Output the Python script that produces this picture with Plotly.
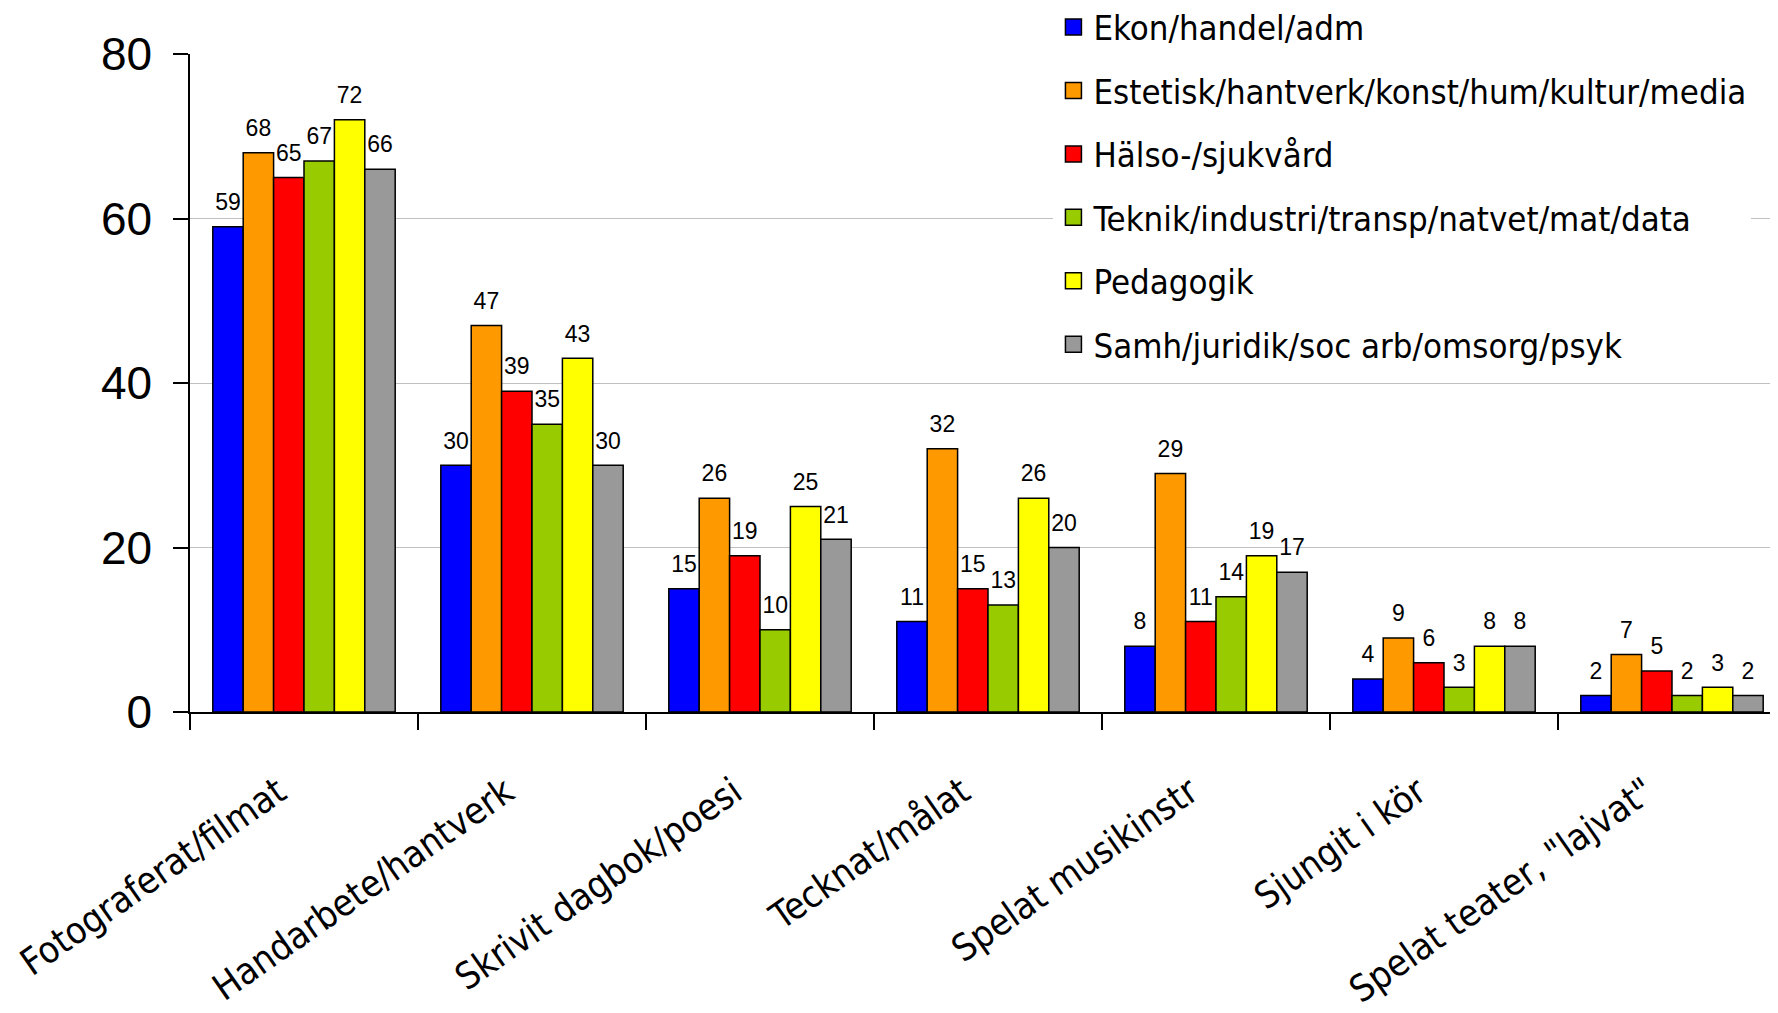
import plotly.graph_objects as go

categories = ["Fotograferat/filmat", "Handarbete/hantverk", "Skrivit dagbok/poesi",
              "Tecknat/målat", "Spelat musikinstr", "Sjungit i kör", "Spelat teater, \"lajvat\""]
series_names = ["Ekon/handel/adm", "Estetisk/hantverk/konst/hum/kultur/media", "Hälso-/sjukvård",
                "Teknik/industri/transp/natvet/mat/data", "Pedagogik", "Samh/juridik/soc arb/omsorg/psyk"]
ekon = [59, 30, 15, 11, 8, 4, 2]
estetisk = [68, 47, 26, 32, 29, 9, 7]
halso = [65, 39, 19, 15, 11, 6, 5]
teknik = [67, 35, 10, 13, 14, 3, 2]
pedagogik = [72, 43, 25, 26, 19, 8, 3]
samh = [66, 30, 21, 20, 17, 8, 2]
y_ticks = [0, 20, 40, 60, 80]

values = [ekon, estetisk, halso, teknik, pedagogik, samh]
colors = ["#0000FF", "#FF9900", "#FF0000", "#99CC00", "#FFFF00", "#999999"]

NARROW = "DejaVu Sans Condensed, Liberation Sans Narrow, sans-serif"
SANS = "Liberation Sans, Arial, sans-serif"

fig = go.Figure()
# bars
for name, vals, col in zip(series_names, values, colors):
    fig.add_trace(go.Bar(
        x=categories, y=vals, name=name, showlegend=False,
        marker=dict(color=col, line=dict(color="black", width=1.5)),
    ))
# value labels, grouped like the bars (invisible markers give the gap above each bar)
for name, vals in zip(series_names, values):
    fig.add_trace(go.Scatter(
        x=categories, y=vals, name=name, showlegend=False, orientation="v",
        mode="markers+text", text=vals, textposition="top center",
        marker=dict(size=16, color="rgba(0,0,0,0)"),
        textfont=dict(family=SANS, size=23, color="black"),
        cliponaxis=False, hoverinfo="skip",
    ))
# legend entries (kept on a hidden overlay axis so they do not take group slots)
for i, (name, col) in enumerate(zip(series_names, colors)):
    fig.add_trace(go.Scatter(
        x=[None], y=[None], mode="markers", name=name, legendgroup=f"g{i}",
        xaxis="x2", yaxis="y2",
        marker=dict(symbol="square", size=16, color=col, line=dict(color="black", width=1.5)),
    ))

# trailing no-break spaces nudge the rotated labels left, as in the original
tick_text = [c + "\u00a0\u00a0\u00a0" for c in categories]

fig.update_layout(
    width=1778, height=1013,
    margin=dict(l=182, r=0, t=46, b=309, autoexpand=False),
    plot_bgcolor="white", paper_bgcolor="white",
    barmode="group", bargap=0.2, bargroupgap=0,
    scattermode="group", scattergap=0.2,
    showlegend=True,
    legend=dict(x=0.541, y=1.085, xanchor="left", yanchor="top",
                bgcolor="white", borderwidth=0, tracegroupgap=15.6,
                font=dict(family=NARROW, size=34.5, color="black")),
    xaxis=dict(type="category", tickson="boundaries", ticks="outside", ticklen=16,
               tickcolor="black", tickwidth=1.5, showline=True, linecolor="black", linewidth=1.5,
               tickmode="array", tickvals=categories, ticktext=tick_text,
               tickangle=-35, ticklabelstandoff=24, automargin=False,
               tickfont=dict(family=NARROW, size=37, color="black")),
    yaxis=dict(range=[0, 80], tickvals=y_ticks, ticks="outside", ticklen=15,
               automargin=False,
               tickcolor="black", tickwidth=1.5, showline=True, linecolor="black", linewidth=1.5,
               showgrid=True, gridcolor="#C0C0C0", gridwidth=1, zeroline=False,
               ticklabelstandoff=12,
               tickfont=dict(family=SANS, size=46, color="black")),
    xaxis2=dict(overlaying="x", visible=False, range=[0, 1]),
    yaxis2=dict(overlaying="y", visible=False, range=[0, 1]),
)

fig.write_html("out.html")
